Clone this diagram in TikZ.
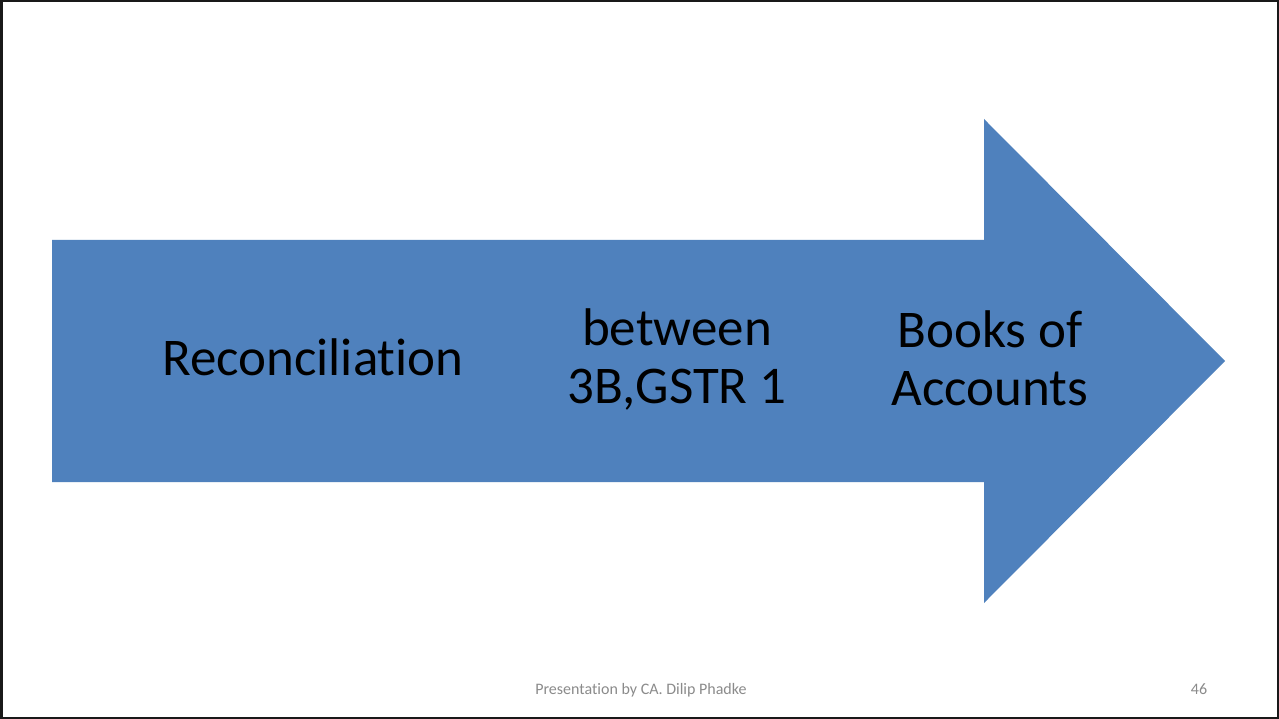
\documentclass[tikz,border=0pt]{standalone}
\usepackage{fontspec}
\setmainfont[Ligatures=NoCommon]{Carlito}
\definecolor{arrowblue}{HTML}{4F81BD}
\definecolor{footgray}{HTML}{8B8B8B}
\begin{document}
\begin{tikzpicture}[x=1pt,y=-1pt,
  bigtext/.style={font=\fontsize{53}{58}\selectfont, text=black, align=center, inner sep=0pt, anchor=base},
  foottext/.style={font=\fontsize{16}{19}\selectfont, text=footgray, inner sep=0pt, anchor=base}]
\useasboundingbox (0,0) rectangle (1279,719);
\fill[white] (0,0) rectangle (1279,719);
\draw[line width=2.5pt, draw=black!90] (1.25,1.25) rectangle (1277.75,717.75);
\fill[arrowblue] (52,240) -- (984,240) -- (984,119) -- (1225,361) -- (984,603) -- (984,482) -- (52,482) -- cycle;
\node[bigtext] (a) at (313,375) {Reconciliation};
\node[bigtext] (b) at (677,403) {between\\3B,GSTR 1};
\node[bigtext] (c) at (990,405) {Books of\\Accounts};
\node[foottext] (f) at (641,694) {Presentation by CA. Dilip Phadke};
\node[foottext] (n) at (1199,694) {46};
\end{tikzpicture}
\end{document}
